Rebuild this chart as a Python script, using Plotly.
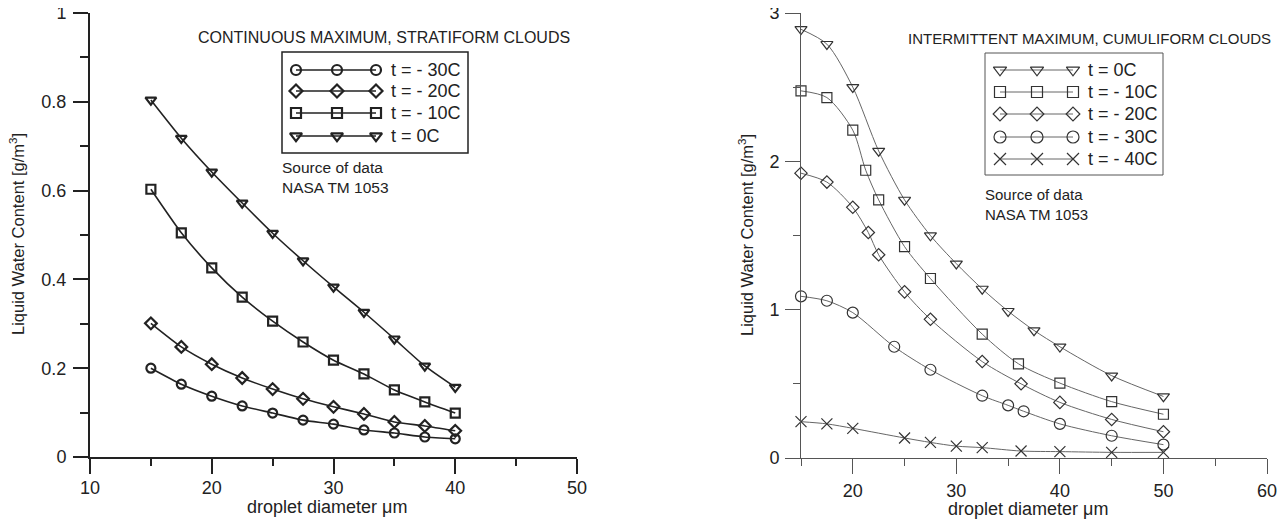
import plotly.graph_objects as go

# ---------------- data: left chart (continuous maximum, stratiform) ----------------
left_x = [15, 17.5, 20, 22.5, 25, 27.5, 30, 32.5, 35, 37.5, 40]
left_t30 = [0.200, 0.164, 0.137, 0.115, 0.099, 0.083, 0.074, 0.061, 0.054, 0.045, 0.041]
left_t20 = [0.301, 0.248, 0.209, 0.178, 0.153, 0.131, 0.113, 0.097, 0.079, 0.070, 0.059]
left_t10 = [0.603, 0.505, 0.426, 0.360, 0.306, 0.259, 0.218, 0.187, 0.151, 0.124, 0.099]
left_t0 = [0.804, 0.718, 0.642, 0.572, 0.504, 0.442, 0.383, 0.326, 0.266, 0.205, 0.157]
left_names = ["t = - 30C", "t = - 20C", "t = - 10C", "t = 0C"]

# ---------------- data: right chart (intermittent maximum, cumuliform) ----------------
right_x_t0 = [15, 17.5, 20, 22.5, 25, 27.5, 30, 32.5, 35, 37.5, 40, 45, 50]
right_t0 = [2.89, 2.79, 2.50, 2.07, 1.74, 1.50, 1.31, 1.14, 0.99, 0.86, 0.75, 0.555, 0.415]
right_x_t10 = [15, 17.5, 20, 21.25, 22.5, 25, 27.5, 32.5, 36, 40, 45, 50]
right_t10 = [2.475, 2.43, 2.21, 1.94, 1.74, 1.425, 1.21, 0.835, 0.635, 0.505, 0.38, 0.295]
right_x_t20 = [15, 17.5, 20, 21.5, 22.5, 25, 27.5, 32.5, 36.25, 40, 45, 50]
right_t20 = [1.92, 1.86, 1.69, 1.52, 1.37, 1.12, 0.935, 0.65, 0.50, 0.375, 0.26, 0.177]
right_x_t30 = [15, 17.5, 20, 24, 27.5, 32.5, 35, 36.5, 40, 45, 50]
right_t30 = [1.09, 1.06, 0.98, 0.75, 0.595, 0.42, 0.355, 0.315, 0.23, 0.15, 0.09]
right_x_t40 = [15, 17.5, 20, 25, 27.5, 30, 32.5, 36.25, 40, 45, 50]
right_t40 = [0.245, 0.23, 0.20, 0.135, 0.105, 0.08, 0.07, 0.047, 0.043, 0.038, 0.038]
right_names = ["t = 0C", "t = - 10C", "t = - 20C", "t = - 30C", "t = - 40C"]

left_title = "CONTINUOUS MAXIMUM, STRATIFORM CLOUDS"
right_title = "INTERMITTENT MAXIMUM, CUMULIFORM CLOUDS"
source_text = "Source of data<br>NASA TM 1053"
x_title = "droplet diameter \u03bcm"
y_title = "Liquid Water Content [g/m<sup>3</sup>]"

# ---------------- layout helpers (screen pixel geometry) ----------------
W, H = 1287, 522
OFF = 8  # page body margin offset of the plot div
FONT = "Liberation Sans, Arial, sans-serif"
DARK = "#222222"
GRAY = "#555555"

def fx(p):
    return (p - OFF) / W

def fy(p):
    return 1 - (p - OFF) / H

fig = go.Figure()

left_series = [left_t30, left_t20, left_t10, left_t0]
left_symbols = ["circle-open", "diamond-open", "square-open", "triangle-down-open"]
left_sizes = [9, 9, 9, 9.5]
for ys, nm, sym, sz in zip(left_series, left_names, left_symbols, left_sizes):
    fig.add_trace(go.Scatter(
        x=left_x, y=ys, name=nm, mode="lines+markers",
        line=dict(color=DARK, width=1.6, shape="spline", smoothing=0.6),
        marker=dict(symbol=sym, size=sz, color=DARK, line=dict(color=DARK, width=2.2)),
        xaxis="x", yaxis="y", showlegend=False, cliponaxis=False))

right_xs = [right_x_t0, right_x_t10, right_x_t20, right_x_t30, right_x_t40]
right_series = [right_t0, right_t10, right_t20, right_t30, right_t40]
right_symbols = ["triangle-down-open", "square-open", "diamond-open", "circle-open", "x-thin-open"]
right_sizes = [10.5, 10, 9.5, 11, 11]
for xs, ys, nm, sym, sz in zip(right_xs, right_series, right_names, right_symbols, right_sizes):
    fig.add_trace(go.Scatter(
        x=xs, y=ys, name=nm, mode="lines+markers",
        line=dict(color="#666666", width=1, shape="spline", smoothing=0.8),
        marker=dict(symbol=sym, size=sz, color="#333333", line=dict(color="#333333", width=1.2)),
        xaxis="x2", yaxis="y2", showlegend=False, cliponaxis=False))

# ---------------- custom legends (three markers per sample, as in the original) ----------------
leg_left_rows = [70, 91, 113, 136]
leg_left_mx = [296, 337, 376]
leg_left_text_x = 389
for row, nm, sym, sz in zip(leg_left_rows, left_names, left_symbols, left_sizes):
    fig.add_trace(go.Scatter(
        x=[fx(v) for v in leg_left_mx], y=[fy(row)] * 3, mode="lines+markers",
        line=dict(color=DARK, width=1.6),
        marker=dict(symbol=sym, size=sz + 1, color=DARK, line=dict(color=DARK, width=2.2)),
        xaxis="x3", yaxis="y3", showlegend=False, hoverinfo="skip", cliponaxis=False))
    fig.add_annotation(x=fx(leg_left_text_x), y=fy(row), xref="paper", yref="paper",
                       text=nm, showarrow=False, xanchor="left", yanchor="middle",
                       font=dict(family=FONT, size=18, color=DARK))

leg_right_rows = [70, 92, 114, 137, 159]
leg_right_mx = [1000, 1037, 1073]
leg_right_text_x = 1086
for row, nm, sym, sz in zip(leg_right_rows, right_names, right_symbols, right_sizes):
    fig.add_trace(go.Scatter(
        x=[fx(v) for v in leg_right_mx], y=[fy(row)] * 3, mode="lines+markers",
        line=dict(color="#666666", width=1),
        marker=dict(symbol=sym, size=sz + 1, color="#333333", line=dict(color="#333333", width=1.2)),
        xaxis="x3", yaxis="y3", showlegend=False, hoverinfo="skip", cliponaxis=False))
    fig.add_annotation(x=fx(leg_right_text_x), y=fy(row), xref="paper", yref="paper",
                       text=nm, showarrow=False, xanchor="left", yanchor="middle",
                       font=dict(family=FONT, size=18, color=DARK))

# legend boxes
fig.add_shape(type="rect", xref="paper", yref="paper",
              x0=fx(282), x1=fx(468), y0=fy(153), y1=fy(52),
              line=dict(color=DARK, width=1.5))
fig.add_shape(type="rect", xref="paper", yref="paper",
              x0=fx(985), x1=fx(1163), y0=fy(175), y1=fy(53),
              line=dict(color=GRAY, width=1))

# titles & source notes
fig.add_annotation(x=fx(384), y=fy(37), xref="paper", yref="paper", text=left_title,
                   showarrow=False, xanchor="center", yanchor="middle",
                   font=dict(family=FONT, size=16, color=DARK))
fig.add_annotation(x=fx(1089), y=fy(38), xref="paper", yref="paper", text=right_title,
                   showarrow=False, xanchor="center", yanchor="middle",
                   font=dict(family=FONT, size=15, color=DARK))
fig.add_annotation(x=fx(280), y=fy(177), xref="paper", yref="paper", text=source_text,
                   showarrow=False, xanchor="left", yanchor="middle", align="left",
                   font=dict(family=FONT, size=15.5, color=DARK))
fig.add_annotation(x=fx(983), y=fy(204), xref="paper", yref="paper", text=source_text,
                   showarrow=False, xanchor="left", yanchor="middle", align="left",
                   font=dict(family=FONT, size=15, color=DARK))

# axis titles
fig.add_annotation(x=fx(327), y=fy(507), xref="paper", yref="paper", text=x_title,
                   showarrow=False, xanchor="center", yanchor="middle",
                   font=dict(family=FONT, size=18, color=DARK))
fig.add_annotation(x=fx(1028), y=fy(509), xref="paper", yref="paper", text=x_title,
                   showarrow=False, xanchor="center", yanchor="middle",
                   font=dict(family=FONT, size=18, color=DARK))
fig.add_annotation(x=fx(17), y=fy(234), xref="paper", yref="paper", text=y_title,
                   showarrow=False, xanchor="center", yanchor="middle", textangle=-90,
                   font=dict(family=FONT, size=16.5, color=DARK))
fig.add_annotation(x=fx(746), y=fy(235), xref="paper", yref="paper", text=y_title,
                   showarrow=False, xanchor="center", yanchor="middle", textangle=-90,
                   font=dict(family=FONT, size=16.5, color=DARK))

tickfont = dict(family=FONT, size=18, color=DARK)

def axis_common(color, width, standoff):
    return dict(showgrid=False, zeroline=False, showline=True, linecolor=color, linewidth=width,
                ticks="outside", ticklen=15, tickwidth=width, tickcolor=color,
                tickfont=tickfont, ticklabelstandoff=standoff, automargin=False,
                ticklabeloverflow="allow")

fig.update_layout(
    width=W, height=H, margin=dict(l=0, r=0, t=0, b=0, autoexpand=False),
    paper_bgcolor="white", plot_bgcolor="rgba(0,0,0,0)",
    xaxis=dict(domain=[fx(90), fx(577)], range=[10, 50], tick0=10, dtick=10,
               minor=dict(dtick=5, ticks="outside", ticklen=7, tickwidth=2, tickcolor=DARK),
               anchor="y", **axis_common(DARK, 2, -2)),
    yaxis=dict(domain=[fy(457), fy(13)], range=[0, 1], tick0=0, dtick=0.2,
               minor=dict(dtick=0.1, ticks="outside", ticklen=8, tickwidth=2, tickcolor=DARK),
               anchor="x", **axis_common(DARK, 2, 3)),
    xaxis2=dict(domain=[fx(801), fx(1267)], range=[15, 60], tick0=0, dtick=10,
                minor=dict(dtick=5, tick0=0, ticks="outside", ticklen=7, tickwidth=1, tickcolor=GRAY),
                anchor="y2", **axis_common(GRAY, 1, 1)),
    yaxis2=dict(domain=[fy(458), fy(13)], range=[0, 3], tick0=0, dtick=1,
                minor=dict(dtick=0.5, ticks="outside", ticklen=7, tickwidth=1, tickcolor=GRAY),
                anchor="x2", **axis_common(GRAY, 1, 2)),
    xaxis3=dict(domain=[0, 1], range=[0, 1], visible=False, anchor="y3", automargin=False),
    yaxis3=dict(domain=[0, 1], range=[0, 1], visible=False, anchor="x3", automargin=False),
    showlegend=False,
)

fig.write_html("out.html")
